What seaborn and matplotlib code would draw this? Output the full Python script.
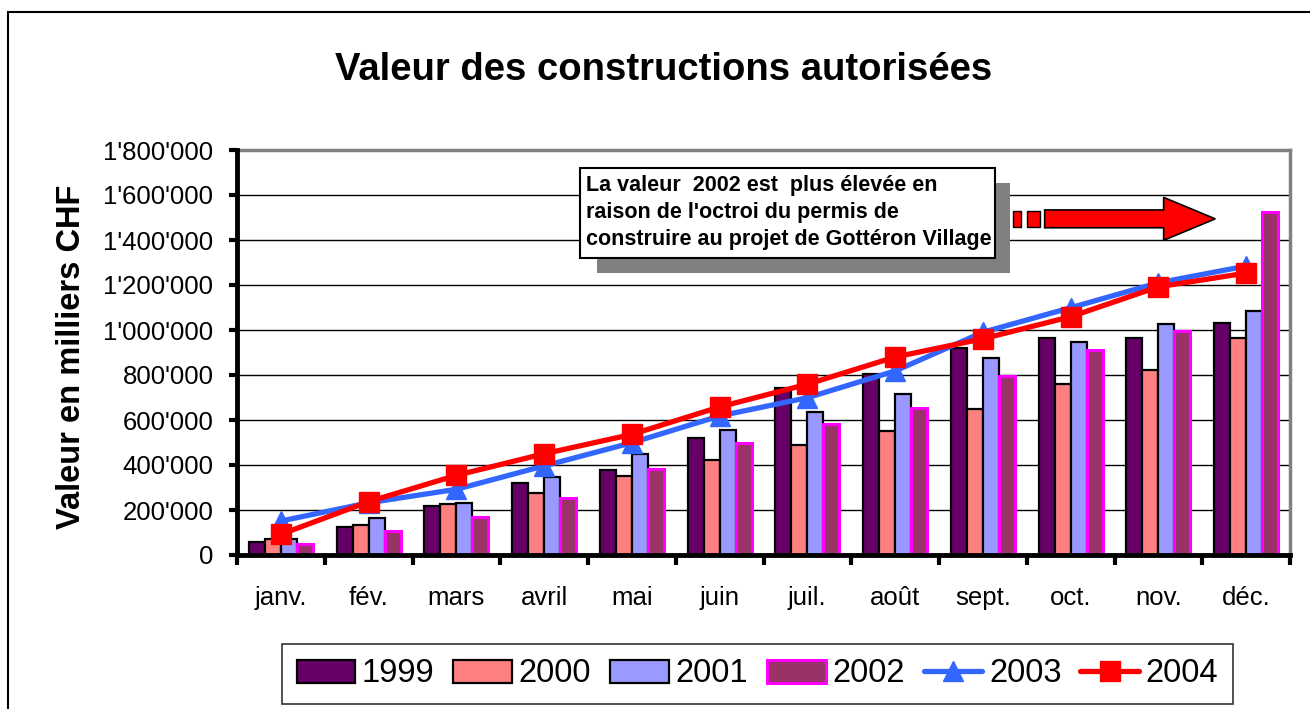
import pandas as pd
import numpy as np
import matplotlib.pyplot as plt
import seaborn as sns
from matplotlib.patches import Patch, Rectangle, Polygon
from matplotlib.lines import Line2D
from matplotlib.ticker import FuncFormatter, FixedLocator

# Données (valeurs en milliers CHF)
mois = ["janv.", "fév.", "mars", "avril", "mai", "juin",
        "juil.", "août", "sept.", "oct.", "nov.", "déc."]
v1999 = [59000, 124000, 219000, 321000, 379000, 521000,
         741000, 803000, 920000, 966000, 966000, 1031000]
v2000 = [70000, 133000, 225000, 276000, 350000, 421000,
         489000, 551000, 650000, 761000, 824000, 966000]
v2001 = [72000, 164000, 230000, 345000, 447000, 554000,
         637000, 717000, 874000, 948000, 1026000, 1084000]
v2002 = [47000, 105000, 170000, 252000, 383000, 498000,
         581000, 653000, 794000, 912000, 995000, 1523000]
v2003 = [151000, 232000, 292000, 396000, 499000, 618000,
         699000, 818000, 990000, 1099000, 1210000, 1284000]
v2004 = [92000, 237000, 354000, 450000, 536000, 658000,
         759000, 880000, 961000, 1059000, 1192000, 1253000]
annees_barres = ["1999", "2000", "2001", "2002"]
y_ticks = [0, 200000, 400000, 600000, 800000, 1000000,
           1200000, 1400000, 1600000, 1800000]
note = ("La valeur  2002 est  plus élevée en\n"
        "raison de l'octroi du permis de\n"
        "construire au projet de Gottéron Village")

bar_colors = ["#660066", "#FF8080", "#9999FF", "#993366"]
bar_edges = ["black", "black", "black", "#FF00FF"]
col_2003 = "#3366FF"
col_2004 = "#FF0000"

sns.set_theme(style="white")
plt.rcParams["font.family"] = ["Liberation Sans", "DejaVu Sans"]
plt.rcParams["text.color"] = "black"
plt.rcParams["xtick.color"] = "black"
plt.rcParams["ytick.color"] = "black"

df = pd.DataFrame({"mois": mois, "1999": v1999, "2000": v2000,
                   "2001": v2001, "2002": v2002})
df_long = df.melt(id_vars="mois", var_name="annee", value_name="valeur")

fig = plt.figure(figsize=(13.1, 7.09), dpi=100)
ax = fig.add_axes([237 / 1310, 1 - 555 / 709, 1053 / 1310, 405 / 709])

sns.barplot(data=df_long, x="mois", y="valeur", hue="annee",
            palette=bar_colors, width=0.73, saturation=1,
            edgecolor="black", linewidth=1.6, legend=False, ax=ax, zorder=3)
for cont, ec in zip(ax.containers, bar_edges):
    for b in cont:
        b.set_edgecolor(ec)
        if ec != "black":
            b.set_linewidth(2.2)

x = np.arange(len(mois))
ax.plot(x, v2003, color=col_2003, lw=3.8, marker="^", ms=15, zorder=5)
ax.plot(x, v2004, color=col_2004, lw=3.8, marker="s", ms=15, zorder=6)

ax.set_xlim(-0.5, len(mois) - 0.5)
ax.set_ylim(0, 1800000)
ax.set_xlabel("")
ax.set_ylabel("")

# axe Y
ax.yaxis.set_major_locator(FixedLocator(y_ticks))
ax.yaxis.set_major_formatter(FuncFormatter(lambda v, p: f"{v:,.0f}".replace(",", "'")))
ax.tick_params(axis="y", direction="out", length=6, width=3, color="black",
               labelsize=18.5, pad=11, left=True, labelcolor="black")
ax.grid(axis="y", color="black", lw=1, zorder=0)
ax.grid(axis="x", visible=False)

# axe X : étiquettes au centre, graduations entre les mois
ax.set_xticks(x)
ax.set_xticklabels(mois)
ax.set_xticks(np.arange(-0.5, len(mois)), minor=True)
ax.tick_params(axis="x", which="major", length=0, labelsize=18.5, pad=22,
               labelcolor="black")
ax.tick_params(axis="x", which="minor", direction="out", length=7, width=3,
               color="black", bottom=True)

for s in ["left", "bottom"]:
    ax.spines[s].set_color("black")
    ax.spines[s].set_linewidth(3.5)
    ax.spines[s].set_zorder(7)
for s in ["top", "right"]:
    ax.spines[s].set_color("#808080")
    ax.spines[s].set_linewidth(2.5)

# encadré avec ombre
ax.add_patch(Rectangle((0.342, 0.696), 0.392, 0.223, transform=ax.transAxes,
                       facecolor="#808080", edgecolor="none", zorder=8))
ax.add_patch(Rectangle((0.3257, 0.733), 0.3941, 0.2226, transform=ax.transAxes,
                       facecolor="white", edgecolor="black", lw=1.5, zorder=9))
ax.text(0.331, 0.845, note, transform=ax.transAxes, ha="left", va="center",
        fontsize=15.5, fontweight="bold", linespacing=1.38, zorder=10)

# flèche rouge
for x0, w in [(0.737, 0.0076), (0.750, 0.0123)]:
    ax.add_patch(Rectangle((x0, 0.81), w, 0.04, transform=ax.transAxes,
                           facecolor=col_2004, edgecolor="black", lw=1, zorder=8))
arrow = Polygon([(0.767, 0.808), (0.880, 0.808), (0.880, 0.777), (0.929, 0.830),
                 (0.880, 0.883), (0.880, 0.852), (0.767, 0.852)],
                closed=True, transform=ax.transAxes, facecolor=col_2004,
                edgecolor="black", lw=1.2, zorder=8)
ax.add_patch(arrow)

# titres
fig.text(664 / 1310, 1 - 70 / 709, "Valeur des constructions autorisées",
         ha="center", va="center", fontsize=27.5, fontweight="bold")
fig.text(72 / 1310, 1 - 357 / 709, "Valeur en milliers CHF", rotation=90,
         ha="center", va="center", fontsize=23.5, fontweight="bold")

# légende
handles = [Patch(facecolor=c, edgecolor=e, lw=1.6 if e == "black" else 2.2)
           for c, e in zip(bar_colors, bar_edges)]
handles += [Line2D([], [], color=col_2003, lw=3.8, marker="^", ms=15),
            Line2D([], [], color=col_2004, lw=3.8, marker="s", ms=15)]
labels = annees_barres + ["2003", "2004"]
leg = fig.legend(handles, labels, loc="center", bbox_to_anchor=(0.5782, 1 - 674 / 709),
                 ncol=6, fontsize=23.5, frameon=True, fancybox=False,
                 edgecolor="black", handlelength=1.8, handleheight=0.7,
                 handletextpad=0.2, columnspacing=0.58, borderpad=0.45,
                 borderaxespad=0.2)
leg.get_frame().set_linewidth(1.2)

# cadre extérieur
fig.patches.append(Rectangle((8 / 1310, -0.1), 1.2, 1.1 - 12 / 709,
                             transform=fig.transFigure, fill=False,
                             edgecolor="black", lw=1.5))

fig.savefig("out.png", dpi=100)
